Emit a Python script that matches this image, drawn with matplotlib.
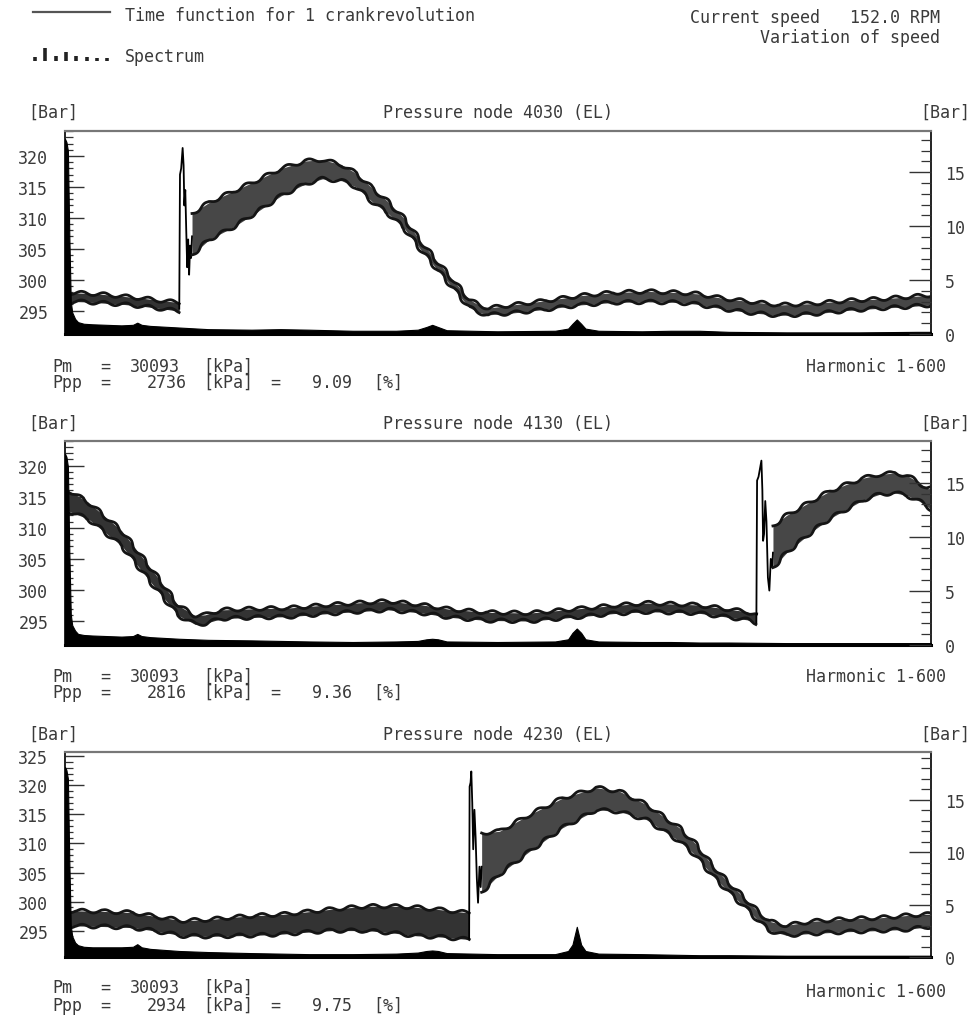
import numpy as np
import matplotlib
matplotlib.use("Agg")
import matplotlib.pyplot as plt
from matplotlib.lines import Line2D
from matplotlib.ticker import MultipleLocator

W, H = 972, 1020
FONT = "DejaVu Sans Mono"
FS = 12
TC = "#3a3a3a"

# ---------------- data ----------------
titles = ["Pressure node 4030 (EL)", "Pressure node 4130 (EL)", "Pressure node 4230 (EL)"]
pm_vals = ["30093", "30093", "30093"]
ppp_vals = ["2736", "2816", "2934"]
ppp_pct = ["9.09", "9.36", "9.75"]
left_ticks = [[295, 300, 305, 310, 315, 320],
              [295, 300, 305, 310, 315, 320],
              [295, 300, 305, 310, 315, 320, 325]]
left_lims = [(291.2, 324.0), (291.2, 324.0), (290.4, 325.7)]
right_ticks = [0, 5, 10, 15]
right_lims = [(0, 18.8), (0, 18.9), (0, 19.5)]

# time function, crank angle [deg] vs pressure [bar]: band before / after the pressure jump
p1_pre_ang = [0, 8, 16, 24, 32, 40, 47.5]
p1_pre_lo = [296.5, 296.4, 296.2, 296.0, 295.7, 295.3, 294.9]
p1_pre_hi = [297.9, 297.8, 297.6, 297.3, 297.0, 296.6, 296.3]
p1_spk_ang = [47.5, 47.8, 48.3, 48.9, 49.3, 49.6, 50.0, 50.4, 50.8, 51.2, 51.6, 52.0, 52.4, 52.8]
p1_spk_val = [295.3, 317.0, 318.0, 321.3, 318.5, 312.0, 314.5, 308.0, 302.0, 306.5, 300.8, 305.5, 303.5, 307.0]
p1_post_ang = [52.8, 60, 70, 80, 90, 100, 107, 115, 121, 128, 134, 141, 148, 155, 162, 168, 172, 176,
               186, 200, 214, 228, 242, 255, 263, 273, 283.5, 297, 310, 325, 340, 350, 360]
p1_post_lo = [304.0, 306.5, 308.5, 311.0, 313.6, 315.5, 316.3, 316.0, 315.0, 312.5, 310.8, 308.3, 304.8,
              301.5, 298.3, 295.5, 294.7, 294.3, 294.6, 295.2, 295.9, 296.3, 296.4, 296.3, 296.0, 295.3,
              294.7, 294.2, 294.4, 295.0, 295.4, 295.6, 295.9]
p1_post_hi = [310.7, 312.5, 314.3, 316.1, 318.0, 319.2, 319.4, 318.6, 317.2, 314.7, 312.7, 309.9, 306.1,
              302.8, 299.6, 296.8, 295.9, 295.4, 295.9, 296.6, 297.4, 297.9, 298.1, 297.9, 297.7, 297.0,
              296.5, 295.9, 296.1, 296.6, 296.9, 297.2, 297.5]

p2_pre_ang = [0, 1.4, 9.7, 23.6, 37.4, 47.1, 54, 58.2, 65, 80, 92.7, 106, 120.6, 134.3, 148.4, 160,
              169.2, 175.8, 193.3, 214, 228, 242, 262.7, 276, 283.5, 287.4]
p2_pre_lo = [313.0, 312.7, 311.4, 307.1, 300.4, 295.9, 294.5, 294.6, 295.4, 295.6, 295.7, 296.1, 296.5,
             296.8, 296.3, 295.6, 295.3, 295.1, 295.0, 295.7, 296.2, 296.5, 296.3, 295.6, 295.2, 294.7]
p2_pre_hi = [316.3, 316.0, 314.1, 309.5, 302.6, 297.5, 295.9, 296.0, 296.8, 297.0, 297.1, 297.5, 297.9,
             298.2, 297.6, 296.9, 296.6, 296.4, 296.3, 297.0, 297.5, 297.9, 297.6, 296.9, 296.5, 296.0]
p2_spk_ang = [287.4, 287.7, 288.3, 289.5, 289.9, 290.2, 290.6, 291.1, 291.6, 292.2, 292.8, 293.4, 294.0, 294.3]
p2_spk_val = [294.7, 317.6, 318.2, 320.8, 316.0, 307.9, 309.0, 314.3, 311.0, 302.0, 299.9, 305.0, 303.6, 306.0]
p2_post_ang = [294.3, 300, 310.9, 318, 325, 332, 338.8, 345, 350, 355, 358.3, 360]
p2_post_lo = [303.6, 306.0, 309.5, 311.5, 313.0, 314.5, 315.4, 315.6, 315.2, 314.3, 313.5, 313.0]
p2_post_hi = [310.3, 312.0, 314.4, 315.9, 317.0, 318.0, 318.6, 318.8, 318.4, 317.3, 316.3, 316.3]

p3_pre_ang = [0, 4.9, 16, 28.3, 38, 49, 60, 69.8, 80, 90.5, 100, 111.3, 125.4, 136, 146.1, 156, 166.9, 168]
p3_pre_lo = [295.8, 295.8, 295.7, 295.5, 294.9, 294.1, 294.0, 294.1, 294.2, 294.4, 294.7, 295.0, 295.0,
             294.6, 294.1, 293.9, 293.5, 293.4]
p3_pre_hi = [298.4, 298.4, 298.3, 298.1, 297.4, 296.7, 296.9, 297.3, 297.6, 297.8, 298.2, 298.7, 299.2,
             299.2, 299.0, 298.6, 298.1, 298.0]
p3_spk_ang = [168.0, 168.2, 168.6, 168.9, 169.3, 169.7, 170.2, 170.7, 171.2, 171.7, 172.3, 172.8, 173.2]
p3_spk_val = [293.6, 319.8, 320.5, 322.4, 317.0, 309.0, 315.8, 311.0, 304.0, 299.8, 306.0, 302.5, 306.0]
p3_post_ang = [173.2, 180.6, 193.3, 206.8, 220.8, 230.4, 241.7, 255.4, 262, 269.1, 276, 283.2, 288,
               292.8, 299.8, 310.6, 325, 338.4, 350, 358, 360]
p3_post_lo = [301.6, 304.7, 308.7, 312.7, 315.8, 315.5, 314.1, 310.4, 308.0, 304.5, 301.6, 298.8, 296.8,
              295.0, 294.2, 294.5, 294.8, 295.0, 295.2, 295.6, 295.7]
p3_post_hi = [311.8, 312.1, 315.0, 317.8, 319.6, 319.0, 316.7, 312.7, 310.0, 306.2, 303.2, 300.3, 298.3,
              296.6, 295.9, 296.6, 297.0, 297.2, 297.6, 297.8, 297.8]

# spectrum, harmonic order vs amplitude [bar]
spec_h = [1, 2, 3, 4, 5, 6, 8, 10, 14, 20, 30, 40, 48, 51, 54, 60, 80, 100, 130, 150, 170, 200, 230,
          245, 251, 255, 259, 265, 300, 340, 349, 352, 355, 358, 361, 370, 400, 420, 440, 460, 500,
          550, 590, 600]
spec1 = [18.1, 17.8, 17.0, 9.0, 3.0, 2.0, 1.4, 1.1, 0.95, 0.9, 0.85, 0.8, 0.85, 1.05, 0.85, 0.75, 0.6,
         0.45, 0.4, 0.45, 0.4, 0.3, 0.3, 0.4, 0.65, 0.85, 0.65, 0.35, 0.25, 0.3, 0.5, 0.95, 1.35, 0.95,
         0.5, 0.3, 0.25, 0.3, 0.3, 0.2, 0.15, 0.15, 0.2, 0.2]
spec2 = [17.7, 17.4, 16.5, 8.5, 2.8, 1.8, 1.3, 1.0, 0.9, 0.85, 0.8, 0.75, 0.8, 1.0, 0.8, 0.7, 0.55,
         0.45, 0.4, 0.35, 0.3, 0.25, 0.3, 0.35, 0.5, 0.55, 0.5, 0.3, 0.25, 0.3, 0.5, 1.1, 1.5, 1.1, 0.5,
         0.3, 0.25, 0.25, 0.2, 0.2, 0.15, 0.15, 0.15, 0.15]
spec3 = [18.1, 17.8, 17.0, 9.0, 3.0, 2.0, 1.4, 1.15, 1.0, 0.95, 0.95, 0.95, 1.0, 1.25, 0.95, 0.8, 0.6,
         0.5, 0.4, 0.35, 0.3, 0.3, 0.35, 0.45, 0.6, 0.65, 0.6, 0.4, 0.3, 0.3, 0.6, 1.2, 2.9, 1.2, 0.6,
         0.35, 0.3, 0.25, 0.2, 0.2, 0.15, 0.15, 0.15, 0.15]

legend_icon_heights = [4, 13, 5, 9, 5, 4, 3, 3]

panels = [
    (p1_pre_ang, p1_pre_lo, p1_pre_hi, p1_spk_ang, p1_spk_val, p1_post_ang, p1_post_lo, p1_post_hi, spec1),
    (p2_pre_ang, p2_pre_lo, p2_pre_hi, p2_spk_ang, p2_spk_val, p2_post_ang, p2_post_lo, p2_post_hi, spec2),
    (p3_pre_ang, p3_pre_lo, p3_pre_hi, p3_spk_ang, p3_spk_val, p3_post_ang, p3_post_lo, p3_post_hi, spec3),
]

# ---------------- layout (pixels) ----------------
ax_left, ax_right = 65, 931
ax_tops = [132.3, 441.7, 753.3]
ax_bots = [335.0, 645.7, 958.3]
title_y = [113, 424, 735]
pm_y = [367, 677, 988]
ppp_y = [383, 693, 1006]
harm_y = [367, 677, 992]

# ripple look of the recorded trace (rendering style only)
SKETCH = dict(scale=1.8, length=22, randomness=1.0)

fig = plt.figure(figsize=(W / 100, H / 100), dpi=100)
fig.patch.set_facecolor("white")


def ft(x, y, s, ha="left", va="center", **kw):
    fig.text(x / W, 1 - y / H, s, ha=ha, va=va, fontsize=FS, family=FONT, color=TC, **kw)


def band(ax, a, lo, hi, fc):
    ax.fill_between(a, lo, hi, color=fc, lw=0)
    for edge in (lo, hi):
        ln, = ax.plot(a, edge, color="#151515", lw=2.0)
        ln.set_sketch_params(**SKETCH)


# header
fig.add_artist(Line2D([33 / W, 110 / W], [1 - 13 / H, 1 - 13 / H], color="#555555", lw=1.6))
ft(125, 16, "Time function for 1 crankrevolution")
for i, hgt in enumerate(legend_icon_heights):
    x = (35 + i * 10.3) / W
    fig.add_artist(Line2D([x, x], [1 - 62 / H, 1 - (62 - hgt) / H], color="#222222", lw=2.6,
                          solid_capstyle="butt"))
ft(125, 57, "Spectrum")
ft(940, 18, "Current speed   152.0 RPM", ha="right")
ft(940, 38, "Variation of speed", ha="right")

for k, (pa, plo, phi, sa, sv, qa, qlo, qhi, spec) in enumerate(panels):
    top, bot = ax_tops[k], ax_bots[k]
    rect = [ax_left / W, 1 - bot / H, (ax_right - ax_left) / W, (bot - top) / H]
    ax = fig.add_axes(rect)
    ax.set_xlim(0, 360)
    ax.set_ylim(*left_lims[k])
    band(ax, pa, plo, phi, "#333333")
    ax.plot(sa, sv, color="black", lw=1.3)
    band(ax, qa, qlo, qhi, "#474747")
    ax.set_xticks([])
    ax.set_yticks(left_ticks[k])
    ax.yaxis.set_minor_locator(MultipleLocator(1))
    ax.tick_params(axis="y", which="major", direction="in", length=14, width=1.0, pad=12,
                   labelsize=FS, labelcolor=TC, color="#333333")
    ax.tick_params(axis="y", which="minor", direction="in", length=6, width=0.9, color="#333333")
    for lab in ax.get_yticklabels():
        lab.set_family(FONT)
    for side in ["left", "right"]:
        ax.spines[side].set_color("#222222")
        ax.spines[side].set_linewidth(1.4)
    ax.spines["top"].set_color("#777777")
    ax.spines["top"].set_linewidth(1.6)
    ax.spines["bottom"].set_color("black")
    ax.spines["bottom"].set_linewidth(2.2)

    sx = fig.add_axes(rect, frameon=False)
    sx.set_xlim(1, 600)
    sx.set_ylim(*right_lims[k])
    sx.fill_between(spec_h, 0, spec, color="black", lw=0.8, edgecolor="black")
    sx.set_xticks([])
    sx.yaxis.tick_right()
    sx.set_yticks(right_ticks)
    sx.yaxis.set_minor_locator(MultipleLocator(1))
    sx.tick_params(axis="y", which="major", direction="in", length=16, width=1.0, pad=10,
                   labelsize=FS, labelcolor=TC, color="#333333", left=False, right=True)
    sx.tick_params(axis="y", which="minor", direction="in", length=7, width=0.9, color="#333333",
                   left=False, right=True)
    for lab in sx.get_yticklabels():
        lab.set_family(FONT)

    # texts around the panel
    ft(28, title_y[k], "[Bar]")
    ft(498, title_y[k], titles[k], ha="center")
    ft(970, title_y[k], "[Bar]", ha="right")
    ft(52, pm_y[k], "Pm")
    ft(100, pm_y[k], "=")
    ft(130, pm_y[k], pm_vals[k])
    ft(203, pm_y[k], "[kPa]")
    ft(52, ppp_y[k], "Ppp")
    ft(100, ppp_y[k], "=")
    ft(187, ppp_y[k], ppp_vals[k], ha="right")
    ft(203, ppp_y[k], "[kPa]")
    ft(270, ppp_y[k], "=")
    ft(312, ppp_y[k], ppp_pct[k])
    ft(373, ppp_y[k], "[%]")
    ft(946, harm_y[k], "Harmonic 1-600", ha="right")

fig.savefig("out.png", dpi=100, facecolor="white")
